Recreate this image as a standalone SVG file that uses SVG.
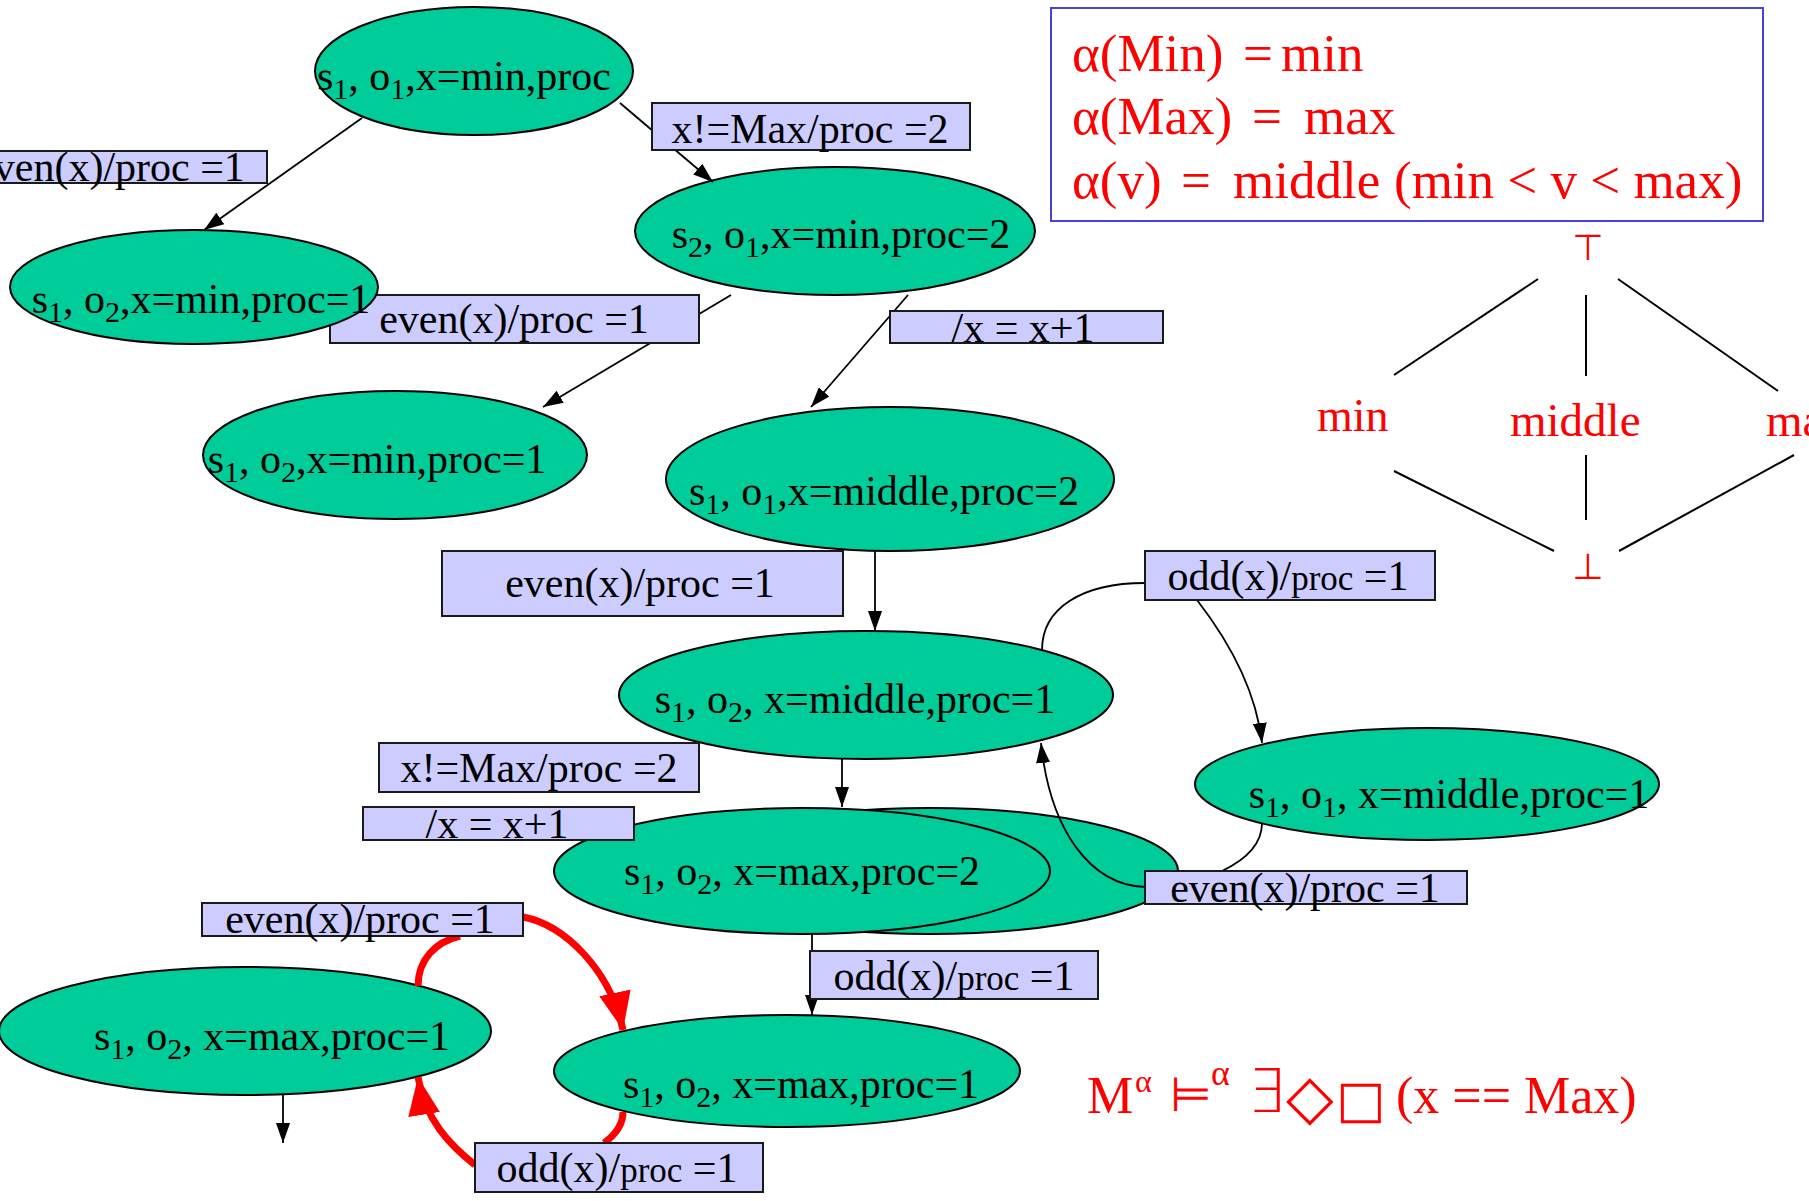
<svg xmlns="http://www.w3.org/2000/svg" width="1809" height="1201" viewBox="0 0 1809 1201">
<style>
.node ellipse{fill:#00cc99;stroke:#000;stroke-width:2}
.nt{font-family:"Liberation Serif","Times New Roman",serif;font-size:42px;fill:#000;text-anchor:middle}
.sub{font-size:30px}
.lbl rect{fill:#ccccff;stroke:#1a1a1a;stroke-width:2}
.lt{font-family:"Liberation Serif","Times New Roman",serif;font-size:42px;fill:#000;text-anchor:middle}
.sm{font-size:35px}
.edge{fill:none;stroke:#000;stroke-width:1.8}
.red{fill:none;stroke:#ff0000;stroke-width:7}
.rt{font-family:"Liberation Serif","Times New Roman",serif;fill:#ff0000}
.sym{font-family:"DejaVu Sans","Noto Sans",sans-serif;fill:#ff0000}
.lat{stroke:#000;stroke-width:2}
</style>
<defs>
<marker id="ah" markerUnits="userSpaceOnUse" markerWidth="20" markerHeight="14" refX="20" refY="7" orient="auto"><path d="M0,0 L20,7 L0,14 z" fill="#000"/></marker>
<marker id="ahr" markerUnits="userSpaceOnUse" markerWidth="38" markerHeight="32" refX="38" refY="16" orient="auto"><path d="M0,0 L38,16 L0,32 z" fill="#ff0000"/></marker>
</defs>
<rect width="1809" height="1201" fill="#fff"/>

<g id="n1" class="node"><ellipse cx="474" cy="71" rx="159" ry="64"/><text class="nt" x="464" y="90">s<tspan class="sub" dy="9">1</tspan><tspan dy="-9">, o</tspan><tspan class="sub" dy="9">1</tspan><tspan dy="-9">,x=min,proc</tspan></text></g>
<g id="n2" class="node"><ellipse cx="835" cy="231" rx="200" ry="64"/><text class="nt" x="841" y="248">s<tspan class="sub" dy="9">2</tspan><tspan dy="-9">, o</tspan><tspan class="sub" dy="9">1</tspan><tspan dy="-9">,x=min,proc=2</tspan></text></g>
<g id="n4" class="node"><ellipse cx="395" cy="455" rx="192" ry="64"/><text class="nt" x="377" y="473">s<tspan class="sub" dy="9">1</tspan><tspan dy="-9">, o</tspan><tspan class="sub" dy="9">2</tspan><tspan dy="-9">,x=min,proc=1</tspan></text></g>
<g id="n5" class="node"><ellipse cx="890" cy="479" rx="224" ry="72"/><text class="nt" x="884" y="505">s<tspan class="sub" dy="9">1</tspan><tspan dy="-9">, o</tspan><tspan class="sub" dy="9">1</tspan><tspan dy="-9">,x=middle,proc=2</tspan></text></g>
<g id="n6" class="node"><ellipse cx="866" cy="695" rx="247" ry="64"/><text class="nt" x="855" y="713">s<tspan class="sub" dy="9">1</tspan><tspan dy="-9">, o</tspan><tspan class="sub" dy="9">2</tspan><tspan dy="-9">, x=middle,proc=1</tspan></text></g>
<g id="n7" class="node"><ellipse cx="1427" cy="784" rx="232" ry="56"/><text class="nt" x="1449" y="808">s<tspan class="sub" dy="9">1</tspan><tspan dy="-9">, o</tspan><tspan class="sub" dy="9">1</tspan><tspan dy="-9">, x=middle,proc=1</tspan></text></g>
<g id="n8" class="node"><ellipse cx="930" cy="871" rx="248" ry="63"/><ellipse cx="802" cy="871" rx="248" ry="63"/><text class="nt" x="802" y="885">s<tspan class="sub" dy="9">1</tspan><tspan dy="-9">, o</tspan><tspan class="sub" dy="9">2</tspan><tspan dy="-9">, x=max,proc=2</tspan></text></g>
<g id="n9" class="node"><ellipse cx="245" cy="1031" rx="246" ry="64"/><text class="nt" x="272" y="1050">s<tspan class="sub" dy="9">1</tspan><tspan dy="-9">, o</tspan><tspan class="sub" dy="9">2</tspan><tspan dy="-9">, x=max,proc=1</tspan></text></g>
<g id="n10" class="node"><ellipse cx="787" cy="1071" rx="233" ry="56"/><text class="nt" x="801" y="1098">s<tspan class="sub" dy="9">1</tspan><tspan dy="-9">, o</tspan><tspan class="sub" dy="9">2</tspan><tspan dy="-9">, x=max,proc=1</tspan></text></g>

<g id="connectors">
<path class="edge" d="M362,118 L204,230" marker-end="url(#ah)"/>
<path class="edge" d="M620,103 L713,182" marker-end="url(#ah)"/>
<path class="edge" d="M731,295 L543,407" marker-end="url(#ah)"/>
<path class="edge" d="M908,295 L811,407" marker-end="url(#ah)"/>
<path class="edge" d="M875,551 L875,631" marker-end="url(#ah)"/>
<path class="edge" d="M842,759 L842,807" marker-end="url(#ah)"/>
<path class="edge" d="M1042,650 C1042,608 1082,583 1145,583"/>
<path class="edge" d="M1197,600 C1228,640 1256,690 1262,743" marker-end="url(#ah)"/>
<path class="edge" d="M1262,823 C1262,845 1245,860 1222,871"/>
<path class="edge" d="M1145,887 C1090,885 1050,830 1041,743" marker-end="url(#ah)"/>
<path class="edge" d="M812,935 L812,1015" marker-end="url(#ah)"/>
<path class="edge" d="M283,1095 L283,1143" marker-end="url(#ah)"/>
<path class="red" d="M418,986 C418,960 435,942 460,936"/>
<path class="red" d="M523,917 C565,925 610,970 623,1030" marker-end="url(#ahr)"/>
<path class="red" d="M623,1112 C623,1125 615,1135 604,1143"/>
<path class="red" d="M475,1165 C450,1145 425,1120 418,1077" marker-end="url(#ahr)"/>

<g class="lbl"><rect x="-5" y="151" width="272" height="32"/><text class="lt" x="110" y="181">even(x)/proc =1</text></g>
<g class="lbl"><rect x="652" y="103" width="318" height="47"/><text class="lt" x="810" y="143">x!=Max/proc =2</text></g>
<g class="lbl"><rect x="330" y="295" width="369" height="48"/><text class="lt" x="514" y="333">even(x)/proc =1</text></g>
<g class="lbl"><rect x="890" y="311" width="273" height="32"/><text class="lt" x="1023" y="342">/x = x+1</text></g>
<g class="lbl"><rect x="442" y="551" width="401" height="65"/><text class="lt" x="640" y="597">even(x)/proc =1</text></g>
<g class="lbl"><rect x="1145" y="551" width="290" height="49"/><text class="lt" x="1288" y="590">odd(x)/<tspan class="sm">proc</tspan> =1</text></g>
<g class="lbl"><rect x="379" y="743" width="320" height="49"/><text class="lt" x="539" y="782">x!=Max/proc =2</text></g>
<g class="lbl"><rect x="363" y="807" width="271" height="33"/><text class="lt" x="497" y="838">/x = x+1</text></g>
<g class="lbl"><rect x="1145" y="871" width="322" height="33"/><text class="lt" x="1305" y="902">even(x)/proc =1</text></g>
<g class="lbl"><rect x="202" y="903" width="321" height="33"/><text class="lt" x="360" y="933">even(x)/proc =1</text></g>
<g class="lbl"><rect x="810" y="951" width="288" height="48"/><text class="lt" x="954" y="990">odd(x)/<tspan class="sm">proc</tspan> =1</text></g>
<g class="lbl"><rect x="475" y="1143" width="288" height="49"/><text class="lt" x="617" y="1182">odd(x)/<tspan class="sm">proc</tspan> =1</text></g>
</g>

<g id="n3" class="node"><ellipse cx="194" cy="287" rx="184" ry="57"/><text class="nt" x="201" y="313">s<tspan class="sub" dy="9">1</tspan><tspan dy="-9">, o</tspan><tspan class="sub" dy="9">2</tspan><tspan dy="-9">,x=min,proc=1</tspan></text></g>

<g id="alpha-box">
<rect x="1051" y="8" width="712" height="213" fill="none" stroke="#4444dd" stroke-width="2"/>
<text class="rt" font-size="53" y="71"><tspan x="1072">α(Min)</tspan><tspan x="1243">=</tspan><tspan x="1281">min</tspan></text>
<text class="rt" font-size="53" y="134"><tspan x="1072">α(Max)</tspan><tspan x="1252">=</tspan><tspan x="1304">max</tspan></text>
<text class="rt" font-size="53" y="198"><tspan x="1072">α(v)</tspan><tspan x="1181">=</tspan><tspan x="1233">middle</tspan><tspan x="1394">(min &lt; v &lt; max)</tspan></text>
</g>

<g id="lattice">
<text class="sym" font-size="36" x="1588" y="260" text-anchor="middle">⊤</text>
<text class="sym" font-size="36" x="1588" y="579" text-anchor="middle">⊥</text>
<text class="rt" font-size="46" x="1317" y="431">min</text>
<text class="rt" font-size="47" x="1510" y="436">middle</text>
<text class="rt" font-size="47" x="1766" y="436">max</text>
<line class="lat" x1="1538" y1="279" x2="1394" y2="375"/>
<line class="lat" x1="1586" y1="295" x2="1586" y2="376"/>
<line class="lat" x1="1618" y1="279" x2="1778" y2="391"/>
<line class="lat" x1="1394" y1="471" x2="1554" y2="551"/>
<line class="lat" x1="1586" y1="455" x2="1586" y2="520"/>
<line class="lat" x1="1794" y1="455" x2="1619" y2="551"/>
</g>

<g id="formula">
<text class="rt" font-size="52" x="1087" y="1113">M</text>
<text class="rt" font-size="32" x="1135" y="1092">α</text>
<text class="sym" font-size="48" x="1170" y="1111">⊨</text>
<text class="rt" font-size="36" x="1211" y="1085">α</text>
<text class="sym" font-size="60" font-weight="200" x="1247" y="1112">∃</text>
<text class="sym" font-size="62" x="1286" y="1118">◇</text>
<text class="sym" font-size="52" x="1336" y="1117">□</text>
<text class="rt" font-size="52" x="1396" y="1113">(x == Max)</text>
</g>
</svg>
